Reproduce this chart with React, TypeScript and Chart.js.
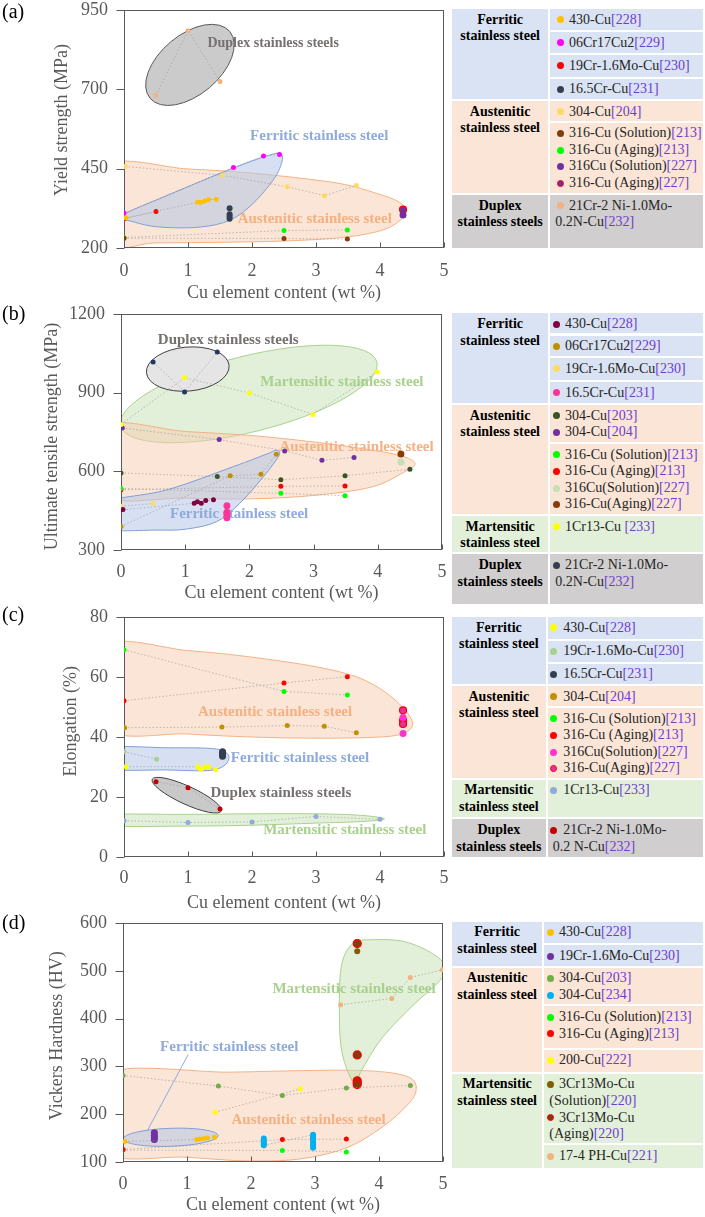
import React, { useEffect, useRef } from 'react';
import { Chart, registerables } from 'chart.js';
Chart.register(...registerables);

const SERIF = '"Liberation Serif", "Times New Roman", serif';
Chart.defaults.font.family = SERIF;

// ---------------- shared labels / ticks ----------------
const X_TITLE = 'Cu element content (wt %)';
const X_TICKS = [0, 1, 2, 3, 4, 5];
const A_Y_TICKS = [200, 450, 700, 950];
const B_Y_TICKS = [300, 600, 900, 1200];
const C_Y_TICKS = [0, 20, 40, 60, 80];
const D_Y_TICKS = [100, 200, 300, 400, 500, 600];

// ---------------- (a) Yield strength ----------------
const a430Cu228 = [[0.03, 295], [1.15, 344], [1.2, 344], [1.26, 348], [1.32, 352], [1.44, 354]];
const a06Cr17Cu2_229 = [[0, 310], [1.71, 454], [2.18, 490], [2.43, 495]];
const a19Cr16MoCu230 = [[0, 292], [0.5, 315]];
const a165CrCu231 = [[1.65, 325], [1.65, 306], [1.65, 299], [1.65, 292]];
const a304Cu204 = [[0.02, 457], [1.54, 429], [2.55, 393], [3.13, 365], [3.63, 397]];
const a316Sol213 = [[0, 231], [2.5, 230], [3.49, 228]];
const a316Age213 = [[0, 233], [2.5, 255], [3.49, 257]];
const a316Sol227 = [[4.36, 304]];
const a316Age227 = [[4.36, 321]];
const aDuplex232 = [[0.5, 681], [1.0, 885], [1.5, 725]];

// ---------------- (b) Ultimate tensile strength ----------------
const b430Cu228 = [[0.03, 454], [1.14, 478], [1.19, 484], [1.25, 478], [1.32, 489], [1.44, 492]];
const b06Cr17Cu2_229 = [[0, 390], [1.7, 583], [2.18, 589], [2.42, 665]];
const b19Cr16MoCu230 = [[0, 467], [0.5, 477]];
const b165CrCu231 = [[1.65, 469], [1.65, 444], [1.65, 433], [1.65, 423]];
const b304Cu203 = [[0, 594], [1.5, 580], [2.49, 568], [3.49, 583], [4.5, 608]];
const b304Cu204 = [[0.02, 765], [1.53, 721], [2.55, 678], [3.13, 642], [3.63, 653]];
const b316Sol213 = [[0, 535], [2.49, 516], [3.49, 507]];
const b316Age213 = [[0, 530], [2.49, 543], [3.49, 544]];
const b316Sol227 = [[4.36, 636]];
const b316Age227 = [[4.36, 666]];
const b1Cr13Cu233 = [[0, 779], [0.99, 957], [2.0, 899], [2.99, 817], [3.99, 979]];
const bDuplex232 = [[0.5, 1017], [0.99, 903], [1.5, 1055]];

// ---------------- (c) Elongation ----------------
const c430Cu228 = [[0.03, 30.1], [1.15, 30.1], [1.2, 29.2], [1.26, 30.1], [1.32, 30.1], [1.43, 29.1]];
const c19Cr16MoCu230 = [[0, 35.1], [0.51, 32.6]];
const c165CrCu231 = [[1.54, 35.1], [1.54, 34.5], [1.54, 34.0], [1.54, 33.6]];
const c304Cu204 = [[0.01, 43.1], [1.53, 43.3], [2.55, 43.8], [3.13, 43.6], [3.63, 41.4]];
const c316Sol213 = [[0, 69.1], [2.5, 55.2], [3.49, 54.0]];
const c316Age213 = [[0, 52.1], [2.5, 58.0], [3.49, 60.1]];
const c316Sol227 = [[4.36, 46.5], [4.36, 41.2]];
const c316Age227 = [[4.36, 48.9], [4.36, 45.5], [4.36, 44.3]];
const c1Cr13Cu233 = [[0, 12.1], [1, 11.5], [2, 11.7], [3, 13.5], [4, 12.6]];
const cDuplex232 = [[0.5, 25.1], [1.0, 23.1], [1.5, 16.0]];

// ---------------- (d) Vickers hardness ----------------
const d430Cu228 = [[0.03, 143], [1.15, 147], [1.2, 148], [1.26, 149], [1.32, 150], [1.43, 152]];
const d19Cr16MoCu230 = [[0.49, 161], [0.49, 156], [0.49, 151], [0.49, 147]];
const d304Cu203 = [[0, 281], [1.49, 259], [2.49, 239], [3.49, 255], [4.49, 260]];
const d304Cu234 = [[2.2, 149], [2.2, 145], [2.2, 142], [2.2, 138], [2.2, 135], [2.97, 157], [2.97, 152], [2.97, 149], [2.97, 145], [2.97, 140], [2.97, 135], [2.97, 130]];
const d316Sol213 = [[0, 125], [2.49, 124], [3.49, 121]];
const d316Age213 = [[0, 126], [2.49, 147], [3.49, 148]];
const d200Cu222 = [[1.44, 204], [2.77, 253]];
const d3Cr13MoSol220 = [[3.66, 541]];
const d3Cr13MoAge220 = [[3.66, 557], [3.66, 324], [3.66, 270], [3.66, 266], [3.66, 262]];
const d174PHCu221 = [[3.4, 429], [4.2, 442], [4.49, 486], [4.99, 502]];

// ---------------- region outlines (data space) ----------------
const A_AUS_OUTLINE = [[-0.3, 458], [1.0, 449], [2.0, 436], [3.0, 414], [3.5, 398], [3.9, 375], [4.25, 350], [4.41, 320], [4.3, 285], [4.0, 254], [3.4, 233], [2.5, 222], [1.5, 218], [0.5, 216], [-0.3, 216]];
const A_FER_OUTLINE = [[-0.03, 302], [0.67, 365], [1.71, 452], [2.33, 496], [2.47, 492], [2.45, 460], [2.33, 414], [2.02, 341], [1.66, 288], [1.19, 266], [0.56, 266], [0.14, 283]];
const A_DUP_CENTER = [1.03, 777];

const B_MAR_CENTER = [1.99, 895];
const B_AUS_OUTLINE = [[-0.3, 772], [1.0, 752], [2.0, 737], [3.0, 712], [3.8, 685], [4.35, 660], [4.58, 630], [4.4, 596], [3.9, 540], [3.0, 508], [2.0, 495], [1.0, 498], [-0.3, 510]];
const B_FER_OUTLINE = [[-0.3, 478], [0.71, 529], [1.75, 618], [2.27, 666], [2.42, 680], [2.46, 660], [2.22, 580], [1.85, 478], [1.49, 408], [1.02, 380], [0.56, 376], [-0.3, 383]];
const B_DUP_CENTER = [1.04, 990];

const C_AUS_OUTLINE = [[-0.3, 70.2], [1, 68.8], [2, 66.6], [3, 63.4], [3.7, 59.5], [4.2, 53], [4.5, 45.5], [4.4, 41.5], [4.0, 40], [3, 39.6], [2, 40], [1, 41], [-0.3, 42.9]];
const C_FER_OUTLINE = [[-0.3, 36.3], [0.7, 36.4], [1.35, 36.2], [1.58, 35], [1.64, 32.9], [1.55, 30.2], [1.3, 28.8], [0.7, 29.0], [-0.3, 29.6]];
const C_DUP_CENTER = [0.98, 20.6];
const C_MAR_OUTLINE = [[-0.3, 14.0], [1, 14.2], [2, 14.4], [3, 14.4], [3.7, 13.9], [4.07, 12.7], [3.7, 11.8], [3, 11.3], [2, 10.6], [1, 10.3], [-0.3, 10.5]];

const D_AUS_OUTLINE = [[-0.3, 283], [1.7, 288], [3.3, 292], [4.1, 288], [4.5, 275], [4.58, 250], [4.45, 220], [4.05, 173], [3.5, 130], [2.8, 107], [2.0, 102], [1.0, 110], [-0.3, 122]];
const D_MAR_OUTLINE = [[3.62, 262], [3.42, 330], [3.38, 430], [3.42, 515], [3.6, 558], [3.9, 565], [4.4, 561], [4.85, 535], [5.05, 505], [4.92, 475], [4.55, 430], [4.05, 360], [3.72, 290]];
const D_FER_CENTER = [0.745, 151.7];
const D_LEADER = [[1.02, 325], [0.38, 165.5]];

// ---------------- styles ----------------
const AXIS_TEXT = '#595959';
const REF_COLOR = '#6F3BD1';
const FER_BG = '#DAE3F3', AUS_BG = '#FBE5D6', MAR_BG = '#E2F0D9', DUP_BG = '#D0CECE';
const FER_TXT = '#8FAADC', AUS_TXT = '#F4B183', MAR_TXT = '#A9D18E', DUP_TXT = '#767171';
const AUS_FILL = 'rgba(248,203,173,0.5)', AUS_STROKE = '#F4B183';
const FER_FILL = 'rgba(180,199,231,0.55)', FER_STROKE = '#7F9ED6';
const MAR_FILL = 'rgba(197,224,180,0.5)', MAR_STROKE = '#A9D18E';
const NB = '\u00A0';

const A_SERIES = [
  { data: aDuplex232, color: '#F4B183', r: 2.5 },
  { data: a304Cu204, color: '#FFD966', r: 2.5 },
  { data: a316Sol213, color: '#843C0C', r: 2.5 },
  { data: a316Age213, color: '#00FF00', r: 2.5 },
  { data: a316Sol227, color: '#7030A0', r: 3.5 },
  { data: a316Age227, color: '#7030A0', ring: true, r: 3.5 },
  { data: a430Cu228, color: '#FFC000', r: 2.5 },
  { data: a06Cr17Cu2_229, color: '#FF00FF', r: 2.5 },
  { data: a19Cr16MoCu230, color: '#FF0000', r: 2.5 },
  { data: a165CrCu231, color: '#333F50', r: 3, line: false },
];
const B_SERIES = [
  { data: bDuplex232, color: '#1F3864', r: 2.5 },
  { data: b1Cr13Cu233, color: '#FFFF00', r: 2.5 },
  { data: b304Cu203, color: '#375623', r: 2.5 },
  { data: b304Cu204, color: '#7030A0', r: 2.5 },
  { data: b316Sol213, color: '#00FF00', r: 2.5 },
  { data: b316Age213, color: '#FF0000', r: 2.5 },
  { data: b316Sol227, color: '#C5E0B4', r: 3.5 },
  { data: b316Age227, color: '#843C0C', r: 3.5 },
  { data: b430Cu228, color: '#800040', r: 2.5 },
  { data: b06Cr17Cu2_229, color: '#BF9000', r: 2.5 },
  { data: b19Cr16MoCu230, color: '#FFD966', r: 2.5 },
  { data: b165CrCu231, color: '#FF3399', r: 3.5, line: false },
];
const C_SERIES = [
  { data: c1Cr13Cu233, color: '#8FAADC', r: 2.5 },
  { data: cDuplex232, color: '#C00000', r: 2.5 },
  { data: c304Cu204, color: '#BF9000', r: 2.5 },
  { data: c316Sol213, color: '#00FF00', r: 2.5 },
  { data: c316Age213, color: '#FF0000', r: 2.5 },
  { data: c316Sol227, color: '#FF33CC', r: 3.5, line: false },
  { data: c316Age227, color: '#E0339F', ring: true, r: 3.5, line: false },
  { data: c430Cu228, color: '#FFFF00', r: 2.5 },
  { data: c19Cr16MoCu230, color: '#A9D18E', r: 2.5 },
  { data: c165CrCu231, color: '#333F50', r: 3.5, line: false },
];
const D_SERIES = [
  { data: d174PHCu221, color: '#F4B183', r: 2.5 },
  { data: d304Cu203, color: '#70AD47', r: 2.5 },
  { data: d200Cu222, color: '#FFFF00', r: 2.5 },
  { data: d316Age213, color: '#FF0000', r: 2.5 },
  { data: d316Sol213, color: '#00FF00', r: 2.5 },
  { data: d304Cu234, color: '#00B0F0', r: 3 },
  { data: d430Cu228, color: '#FFC000', r: 2.5 },
  { data: d19Cr16MoCu230, color: '#7030A0', r: 3.5, line: false },
  { data: d3Cr13MoSol220, color: '#7F6000', r: 3 },
  { data: d3Cr13MoAge220, color: '#843C0C', ring: true, r: 4, line: false },
];

const PANELS = [
  {
    id: 'a', top: 0, H: 305, plot: { left: 124, right: 444, top: 10, bottom: 248 },
    yMin: 200, yMax: 950, yTicks: A_Y_TICKS, yTitle: NB.repeat(4) + 'Yield strength (MPa)', yTitlePad: 51, xTickPad: 14,
    series: A_SERIES,
    regions: [
      { kind: 'poly', pts: A_AUS_OUTLINE, fill: AUS_FILL, stroke: AUS_STROKE },
      { kind: 'poly', pts: A_FER_OUTLINE, fill: FER_FILL, stroke: FER_STROKE },
      { kind: 'ellipse', center: A_DUP_CENTER, rx: 52, ry: 30, rot: -40, fill: '#CBCBCB', stroke: '#595959' },
    ],
    labels: [
      { text: 'Duplex stainless steels', at: [2.33, 846], color: DUP_TXT, size: 14 },
      { text: 'Ferritic stainless steel', at: [3.05, 553], color: FER_TXT, size: 15 },
      { text: 'Austenitic stainless steel', at: [2.98, 291], color: AUS_TXT, size: 15 },
    ],
  },
  {
    id: 'b', top: 300, H: 305, plot: { left: 121, right: 442, top: 14, bottom: 250 },
    yMin: 300, yMax: 1200, yTicks: B_Y_TICKS, yTitle: 'Ultimate tensile strength (MPa)' + NB.repeat(2), yTitlePad: 41, xTickPad: 13,
    series: B_SERIES,
    regions: [
      { kind: 'ellipse', center: B_MAR_CENTER, rx: 132, ry: 38, rot: -14, fill: MAR_FILL, stroke: MAR_STROKE },
      { kind: 'poly', pts: B_AUS_OUTLINE, fill: AUS_FILL, stroke: AUS_STROKE },
      { kind: 'poly', pts: B_FER_OUTLINE, fill: FER_FILL, stroke: FER_STROKE },
      { kind: 'ellipse', center: B_DUP_CENTER, rx: 41.5, ry: 22, rot: -5, fill: '#E6E5E5', stroke: '#404040' },
    ],
    labels: [
      { text: 'Duplex stainless steels', at: [1.67, 1101], color: DUP_TXT, size: 15 },
      { text: 'Martensitic stainless steel', at: [3.44, 942], color: MAR_TXT, size: 15 },
      { text: 'Austenitic stainless steel', at: [3.67, 693], color: AUS_TXT, size: 15 },
      { text: 'Ferritic stainless steel', at: [1.84, 436], color: FER_TXT, size: 15 },
    ],
  },
  {
    id: 'c', top: 600, H: 315, plot: { left: 124, right: 444, top: 17, bottom: 257 },
    yMin: 0, yMax: 80, yTicks: C_Y_TICKS, yTitle: NB.repeat(7) + 'Elongation (%)', yTitlePad: 60, xTickPad: 12,
    series: C_SERIES,
    regions: [
      { kind: 'poly', pts: C_AUS_OUTLINE, fill: AUS_FILL, stroke: AUS_STROKE },
      { kind: 'poly', pts: C_FER_OUTLINE, fill: FER_FILL, stroke: FER_STROKE },
      { kind: 'ellipse', center: C_DUP_CENTER, rx: 38, ry: 9, rot: 24.7, fill: '#C9C9C9', stroke: '#404040' },
      { kind: 'poly', pts: C_MAR_OUTLINE, fill: MAR_FILL, stroke: MAR_STROKE },
    ],
    labels: [
      { text: 'Austenitic stainless steel', at: [2.36, 48.4], color: AUS_TXT, size: 15 },
      { text: 'Ferritic stainless steel', at: [2.75, 32.9], color: FER_TXT, size: 15 },
      { text: 'Duplex stainless steels', at: [2.45, 21.4], color: DUP_TXT, size: 15 },
      { text: 'Martensitic stainless steel', at: [3.45, 9.0], color: MAR_TXT, size: 15 },
    ],
  },
  {
    id: 'd', top: 890, H: 327, plot: { left: 123, right: 443, top: 33, bottom: 272 },
    yMin: 100, yMax: 600, yTicks: D_Y_TICKS, yTitle: NB.repeat(3) + 'Vickers Hardness (HV)', yTitlePad: 46, xTickPad: 13,
    series: D_SERIES,
    regions: [
      { kind: 'poly', pts: D_AUS_OUTLINE, fill: AUS_FILL, stroke: AUS_STROKE },
      { kind: 'poly', pts: D_MAR_OUTLINE, fill: MAR_FILL, stroke: MAR_STROKE },
      { kind: 'ellipse', center: D_FER_CENTER, rx: 47.5, ry: 9, rot: -2, fill: FER_FILL, stroke: FER_STROKE },
    ],
    leader: D_LEADER,
    labels: [
      { text: 'Martensitic stainless steel', at: [3.61, 461], color: MAR_TXT, size: 15 },
      { text: 'Ferritic stainless steel', at: [1.66, 341], color: FER_TXT, size: 15 },
      { text: 'Austenitic stainless steel', at: [2.9, 188], color: AUS_TXT, size: 15 },
    ],
  },
];

// ---------------- legends ----------------
const LEGENDS = [
  {
    x: 452, split: 549.3, right: 703, padL: 6.9, gap: 4.8,
    groups: [
      { label: ['Ferritic', 'stainless steel'], bg: FER_BG, top: 9, bottom: 99, cells: [
        { top: 9, bottom: 30, items: [{ color: '#FFC000', lines: ['430-Cu'], ref: '[228]' }] },
        { top: 32, bottom: 53, items: [{ color: '#FF00FF', lines: ['06Cr17Cu2'], ref: '[229]' }] },
        { top: 55, bottom: 76.5, items: [{ color: '#FF0000', lines: ['19Cr-1.6Mo-Cu'], ref: '[230]' }] },
        { top: 78.5, bottom: 99, items: [{ color: '#333F50', lines: ['16.5Cr-Cu'], ref: '[231]' }] },
      ] },
      { label: ['Austenitic', 'stainless steel'], bg: AUS_BG, top: 101, bottom: 193, cells: [
        { top: 101, bottom: 120.5, items: [{ color: '#FFD966', lines: ['304-Cu'], ref: '[204]' }] },
        { top: 122.5, bottom: 193, items: [
          { color: '#843C0C', lines: ['316-Cu (Solution)'], ref: '[213]' },
          { color: '#00FF00', lines: ['316-Cu (Aging)'], ref: '[213]' },
          { color: '#7030A0', lines: ['316Cu (Solution)'], ref: '[227]' },
          { color: '#7030A0', ring: true, lines: ['316-Cu (Aging)'], ref: '[227]' },
        ] },
      ] },
      { label: ['Duplex', 'stainless steels'], bg: DUP_BG, top: 195, bottom: 248, cells: [
        { top: 195, bottom: 248, items: [{ color: '#F4B183', lines: ['21Cr-2 Ni-1.0Mo-', '0.2N-Cu'], ref: '[232]' }] },
      ] },
    ],
  },
  {
    x: 452, split: 549.3, right: 703, padL: 2.9, gap: 4.8,
    groups: [
      { label: ['Ferritic', 'stainless steel'], bg: FER_BG, top: 313.3, bottom: 402.7, cells: [
        { top: 313.3, bottom: 333.5, items: [{ color: '#800040', lines: ['430-Cu'], ref: '[228]' }] },
        { top: 335.5, bottom: 356, items: [{ color: '#BF9000', lines: ['06Cr17Cu2'], ref: '[229]' }] },
        { top: 358, bottom: 380, items: [{ color: '#FFD966', lines: ['19Cr-1.6Mo-Cu'], ref: '[230]' }] },
        { top: 382, bottom: 402.7, items: [{ color: '#FF3399', lines: ['16.5Cr-Cu'], ref: '[231]' }] },
      ] },
      { label: ['Austenitic', 'stainless steel'], bg: AUS_BG, top: 405, bottom: 514, cells: [
        { top: 405, bottom: 442, items: [
          { color: '#375623', lines: ['304-Cu'], ref: '[203]' },
          { color: '#7030A0', lines: ['304-Cu'], ref: '[204]' },
        ] },
        { top: 444, bottom: 514, items: [
          { color: '#00FF00', lines: ['316-Cu (Solution)'], ref: '[213]' },
          { color: '#FF0000', lines: ['316-Cu (Aging)'], ref: '[213]' },
          { color: '#C5E0B4', lines: ['316Cu(Solution)'], ref: '[227]' },
          { color: '#843C0C', lines: ['316-Cu(Aging)'], ref: '[227]' },
        ] },
      ] },
      { label: ['Martensitic', 'stainless steel'], bg: MAR_BG, top: 516, bottom: 552.3, cells: [
        { top: 516, bottom: 552.3, items: [{ color: '#FFFF00', lines: ['1Cr13-Cu '], ref: '[233]' }] },
      ] },
      { label: ['Duplex', 'stainless steels'], bg: DUP_BG, top: 554.3, bottom: 604, cells: [
        { top: 554.3, bottom: 604, items: [{ color: '#333F50', lines: ['21Cr-2 Ni-1.0Mo-', '0.2N-Cu'], ref: '[232]' }] },
      ] },
    ],
  },
  {
    x: 452, split: 546.7, right: 703, padL: 2.1, gap: 6.5,
    groups: [
      { label: ['Ferritic', 'stainless steel'], bg: FER_BG, top: 617, bottom: 684, cells: [
        { top: 617, bottom: 638.5, items: [{ color: '#FFFF00', lines: ['430-Cu'], ref: '[228]' }] },
        { top: 640.5, bottom: 661.5, items: [{ color: '#A9D18E', lines: ['19Cr-1.6Mo-Cu'], ref: '[230]' }] },
        { top: 663.5, bottom: 684, items: [{ color: '#333F50', lines: ['16.5Cr-Cu'], ref: '[231]' }] },
      ] },
      { label: ['Austenitic', 'stainless steel'], bg: AUS_BG, top: 686, bottom: 777.7, cells: [
        { top: 686, bottom: 706, items: [{ color: '#BF9000', lines: ['304-Cu'], ref: '[204]' }] },
        { top: 708, bottom: 777.7, items: [
          { color: '#00FF00', lines: ['316-Cu (Solution)'], ref: '[213]' },
          { color: '#FF0000', lines: ['316-Cu (Aging)'], ref: '[213]' },
          { color: '#FF33CC', lines: ['316Cu(Solution)'], ref: '[227]' },
          { color: '#E0339F', ring: true, lines: ['316-Cu(Aging)'], ref: '[227]' },
        ] },
      ] },
      { label: ['Martensitic', 'stainless steel'], bg: MAR_BG, top: 779.7, bottom: 817.3, cells: [
        { top: 779.7, bottom: 817.3, items: [{ color: '#8FAADC', lines: ['1Cr13-Cu'], ref: '[233]' }] },
      ] },
      { label: ['Duplex', 'stainless steels'], bg: DUP_BG, top: 819.3, bottom: 857, cells: [
        { top: 819.3, bottom: 857, items: [{ color: '#C00000', lines: ['21Cr-2 Ni-1.0Mo-', '0.2 N-Cu'], ref: '[232]' }] },
      ] },
    ],
  },
  {
    x: 452, split: 543.3, right: 703, padL: 3.2, gap: 4.5,
    groups: [
      { label: ['Ferritic', 'stainless steel'], bg: FER_BG, top: 921.7, bottom: 965.7, cells: [
        { top: 921.7, bottom: 943.3, items: [{ color: '#FFC000', lines: ['430-Cu'], ref: '[228]' }] },
        { top: 945.3, bottom: 965.7, items: [{ color: '#7030A0', lines: ['19Cr-1.6Mo-Cu'], ref: '[230]' }] },
      ] },
      { label: ['Austenitic', 'stainless steel'], bg: AUS_BG, top: 967.7, bottom: 1071.7, cells: [
        { top: 967.7, bottom: 1004.3, items: [
          { color: '#70AD47', lines: ['304-Cu'], ref: '[203]' },
          { color: '#00B0F0', lines: ['304-Cu'], ref: '[234]' },
        ] },
        { top: 1006.3, bottom: 1047.7, items: [
          { color: '#00FF00', lines: ['316-Cu (Solution)'], ref: '[213]' },
          { color: '#FF0000', lines: ['316-Cu (Aging)'], ref: '[213]' },
        ] },
        { top: 1049.7, bottom: 1071.7, items: [{ color: '#FFFF00', lines: ['200-Cu'], ref: '[222]' }] },
      ] },
      { label: ['Martensitic', 'stainless steel'], bg: MAR_BG, top: 1073.7, bottom: 1167.7, cells: [
        { top: 1073.7, bottom: 1143.3, items: [
          { color: '#7F6000', lines: ['3Cr13Mo-Cu', '(Solution)'], ref: '[220]' },
          { color: '#843C0C', ring: true, lines: ['3Cr13Mo-Cu', '(Aging)'], ref: '[220]' },
        ] },
        { top: 1145.3, bottom: 1167.7, items: [{ color: '#F4B183', lines: ['17-4 PH-Cu'], ref: '[221]' }] },
      ] },
    ],
  },
];

const PANEL_TAGS = [
  { text: '(a)', top: 1 },
  { text: '(b)', top: 303 },
  { text: '(c)', top: 604 },
  { text: '(d)', top: 912 },
];

// ---------------- drawing helpers ----------------
function smoothClosed(ctx, pts) {
  const n = pts.length;
  ctx.moveTo(pts[0][0], pts[0][1]);
  for (let i = 0; i < n; i++) {
    const p0 = pts[(i - 1 + n) % n], p1 = pts[i], p2 = pts[(i + 1) % n], p3 = pts[(i + 2) % n];
    const c1x = p1[0] + (p2[0] - p0[0]) / 6, c1y = p1[1] + (p2[1] - p0[1]) / 6;
    const c2x = p2[0] - (p3[0] - p1[0]) / 6, c2y = p2[1] - (p3[1] - p1[1]) / 6;
    ctx.bezierCurveTo(c1x, c1y, c2x, c2y, p2[0], p2[1]);
  }
  ctx.closePath();
}

const Y_TICK_MARK = 8;
const Y_TICK_GAP = 16;
const X_TICK_MARK = 5;

function PanelChart({ spec }) {
  const ref = useRef(null);
  useEffect(() => {
    const canvas = ref.current;
    const W = 450;
    const toPx = (chart, p) => [chart.scales.x.getPixelForValue(p[0]), chart.scales.y.getPixelForValue(p[1])];
    const deco = {
      id: 'deco_' + spec.id,
      beforeDatasetsDraw(chart) {
        const ctx = chart.ctx;
        const a = chart.chartArea;
        ctx.save();
        ctx.beginPath();
        ctx.rect(a.left, a.top, a.right - a.left, a.bottom - a.top);
        ctx.clip();
        for (const r of spec.regions) {
          ctx.beginPath();
          if (r.kind === 'ellipse') {
            const [cx, cy] = toPx(chart, r.center);
            ctx.ellipse(cx, cy, r.rx, r.ry, (r.rot * Math.PI) / 180, 0, Math.PI * 2);
          } else {
            smoothClosed(ctx, r.pts.map((p) => toPx(chart, p)));
          }
          ctx.fillStyle = r.fill;
          ctx.fill();
          ctx.lineWidth = 1;
          ctx.strokeStyle = r.stroke;
          ctx.stroke();
        }
        ctx.restore();
        ctx.save();
        if (spec.leader) {
          const [p1, p2] = spec.leader.map((p) => toPx(chart, p));
          ctx.beginPath();
          ctx.moveTo(p1[0], p1[1]);
          ctx.lineTo(p2[0], p2[1]);
          ctx.strokeStyle = '#8FAADC';
          ctx.lineWidth = 1;
          ctx.stroke();
        }
        ctx.textAlign = 'center';
        ctx.textBaseline = 'middle';
        for (const l of spec.labels) {
          const [x, y] = toPx(chart, l.at);
          ctx.font = `bold ${l.size}px ${SERIF}`;
          ctx.fillStyle = l.color;
          ctx.fillText(l.text, x, y);
        }
        ctx.strokeStyle = '#595959';
        ctx.lineWidth = 1;
        const L = Math.round(a.left), T = Math.round(a.top), R = Math.round(a.right), B = Math.round(a.bottom);
        ctx.strokeRect(L + 0.5, T + 0.5, R - L - 1, B - T - 1);
        ctx.beginPath();
        // outward y tick marks
        for (const v of spec.yTicks) {
          const y = Math.round(chart.scales.y.getPixelForValue(v)) + 0.5;
          ctx.moveTo(L + 0.5 - Y_TICK_MARK, y);
          ctx.lineTo(L + 0.5, y);
        }
        // inward x tick marks
        for (const v of X_TICKS) {
          const x = Math.round(chart.scales.x.getPixelForValue(v)) + 0.5;
          ctx.moveTo(x, B - 0.5);
          ctx.lineTo(x, B - 0.5 - X_TICK_MARK);
        }
        ctx.stroke();
        ctx.restore();
      },
    };
    const datasets = spec.series.map((s) => ({
      data: s.data.map(([x, y]) => ({ x, y })),
      showLine: s.line !== false,
      borderColor: 'rgba(150,150,150,0.75)',
      borderWidth: 0.8,
      borderDash: [1.5, 2],
      pointRadius: s.r,
      pointBackgroundColor: s.color,
      pointBorderColor: s.ring ? '#FF0000' : s.color,
      pointBorderWidth: s.ring ? 1.2 : 0,
      fill: false,
    }));
    const tickFont = { family: SERIF, size: 18, lineHeight: 1 };
    const titleFont = { family: SERIF, size: 18 };
    const chart = new Chart(canvas, {
      type: 'scatter',
      data: { datasets },
      options: {
        animation: false,
        responsive: false,
        maintainAspectRatio: false,
        events: [],
        layout: { padding: { top: spec.plot.top, right: W - spec.plot.right, left: 0, bottom: 0 } },
        plugins: { legend: { display: false }, tooltip: { enabled: false } },
        scales: {
          x: {
            type: 'linear', min: 0, max: 5,
            afterBuildTicks: (s) => { s.ticks = X_TICKS.map((v) => ({ value: v })); },
            afterFit: (s) => { s.height = spec.H - spec.plot.bottom; },
            grid: { display: true, drawOnChartArea: false, drawTicks: true, tickLength: spec.xTickPad, color: 'rgba(0,0,0,0)' },
            border: { display: false },
            ticks: { font: tickFont, color: AXIS_TEXT, padding: 0, maxRotation: 0, autoSkip: false, callback: (v) => String(v) },
            title: { display: true, text: X_TITLE, font: titleFont, color: AXIS_TEXT, padding: { top: 0, bottom: 1.2 } },
          },
          y: {
            type: 'linear', min: spec.yMin, max: spec.yMax,
            afterBuildTicks: (s) => { s.ticks = spec.yTicks.map((v) => ({ value: v })); },
            afterFit: (s) => { s.width = spec.plot.left; },
            grid: { display: true, drawOnChartArea: false, drawTicks: true, tickLength: Y_TICK_GAP, color: 'rgba(0,0,0,0)' },
            border: { display: false },
            ticks: { font: tickFont, color: AXIS_TEXT, padding: 0, autoSkip: false, callback: (v) => String(v) },
            title: { display: true, text: spec.yTitle, font: titleFont, color: AXIS_TEXT, padding: { top: spec.yTitlePad, bottom: 0 } },
          },
        },
      },
      plugins: [deco],
    });
    return () => chart.destroy();
  }, [spec]);
  return (
    <canvas
      ref={ref}
      width={450}
      height={spec.H}
      style={{ position: 'absolute', left: 0, top: spec.top, width: 450, height: spec.H }}
    />
  );
}

function Legend({ spec }) {
  const { x, split, right, padL, gap, groups } = spec;
  return (
    <>
      {groups.map((g, gi) => (
        <React.Fragment key={gi}>
          <div
            style={{
              position: 'absolute', left: x, top: g.top, width: split - 1 - x, height: g.bottom - g.top,
              background: g.bg, boxSizing: 'border-box', paddingTop: 2.7, textAlign: 'center',
              font: `bold 14px/16.6px ${SERIF}`, color: '#000',
            }}
          >
            {g.label.map((l, i) => (
              <div key={i} style={{ whiteSpace: 'nowrap' }}>{l}</div>
            ))}
          </div>
          {g.cells.map((c, ci) => (
            <div
              key={ci}
              style={{
                position: 'absolute', left: split + 1, top: c.top, width: right - split - 1, height: c.bottom - c.top,
                background: g.bg, boxSizing: 'border-box', paddingTop: 2.7,
                font: `14px/16.6px ${SERIF}`, color: '#262626', overflow: 'visible',
              }}
            >
              {c.items.map((it, ii) =>
                it.lines.map((ln, li) => (
                  <div
                    key={ii + '-' + li}
                    style={{ display: 'flex', alignItems: 'center', height: 16.6, whiteSpace: 'nowrap', paddingLeft: li === 0 ? padL : 5 }}
                  >
                    {li === 0 && (
                      <span
                        style={{
                          display: 'inline-block', width: 7, height: 7, borderRadius: '50%', background: it.color,
                          marginRight: gap, boxSizing: 'border-box', border: it.ring ? '1px solid #FF0000' : 'none', flex: 'none',
                        }}
                      />
                    )}
                    <span>
                      {ln}
                      {li === it.lines.length - 1 && <span style={{ color: REF_COLOR }}>{it.ref}</span>}
                    </span>
                  </div>
                ))
              )}
            </div>
          ))}
        </React.Fragment>
      ))}
    </>
  );
}

export default function App() {
  return (
    <div style={{ position: 'absolute', left: 0, top: 0, width: 705, height: 1217, background: '#fff', overflow: 'hidden' }}>
      {PANELS.map((p) => (
        <PanelChart key={p.id} spec={p} />
      ))}
      {LEGENDS.map((l, i) => (
        <Legend key={i} spec={l} />
      ))}
      {PANEL_TAGS.map((t, i) => (
        <div key={i} style={{ position: 'absolute', left: 2, top: t.top, font: `20px/20px ${SERIF}`, color: '#000' }}>{t.text}</div>
      ))}
    </div>
  );
}
